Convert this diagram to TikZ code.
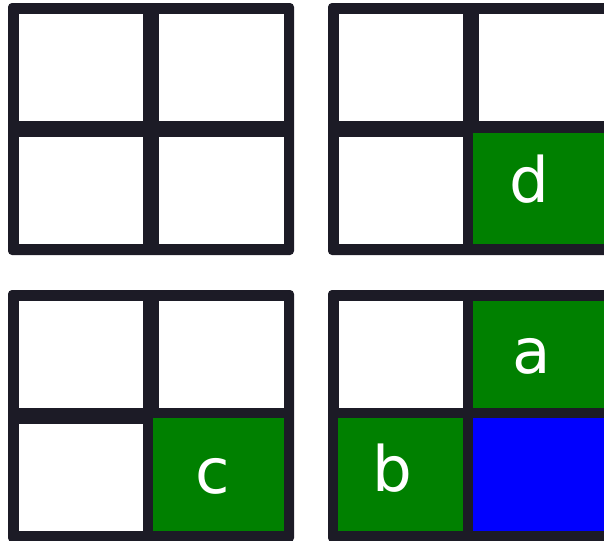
\documentclass[tikz,border=0pt]{standalone}
\usepackage{fontspec}
\setmainfont{DejaVu Sans}
\usepackage{tikz}
\usetikzlibrary{positioning}
\definecolor{gridedge}{RGB}{28, 27, 38}
\definecolor{hitgreen}{RGB}{0, 128, 0}
\definecolor{hitblue}{RGB}{0, 0, 255}

\begin{document}
\begin{tikzpicture}[
    x=0.75pt, y=-0.75pt,
    frame/.style={fill=gridedge, rounded corners=3pt},
    blank/.style={fill=white},
    hit/.style={fill=hitgreen},
    final/.style={fill=hitblue},
    mark label/.style={text=white, inner sep=0pt, font=\fontsize{47}{56}\selectfont}
]
\clip (0,0) rectangle (604,540);

% Frames and empty cells
\foreach \fx/\fy in {8/3, 328/3, 8/290, 328/290}{
    \path[frame] (\fx,\fy) rectangle ++(286,252);
    \foreach \cx/\cw in {11/124, 151/125}{
        \foreach \cy in {11, 134}{
            \path[blank] (\fx+\cx,\fy+\cy) rectangle ++(\cw,107);
        }
    }
}

% Filled cells
\path[hit] (473,133) rectangle (604,244);
\path[hit] (153,418) rectangle (284,531);
\path[hit] (473,301) rectangle (604,408);
\path[hit] (338,418) rectangle (463,531);
\path[final] (473,418) rectangle (604,531);

% Labels
\node[mark label] (labd) at (529,179) {d};
\node[mark label] (labc) at (213,476) {c};
\node[mark label] (laba) at (532,356) {a};
\node[mark label] (labb) at (392,468) {b};
\end{tikzpicture}
\end{document}
